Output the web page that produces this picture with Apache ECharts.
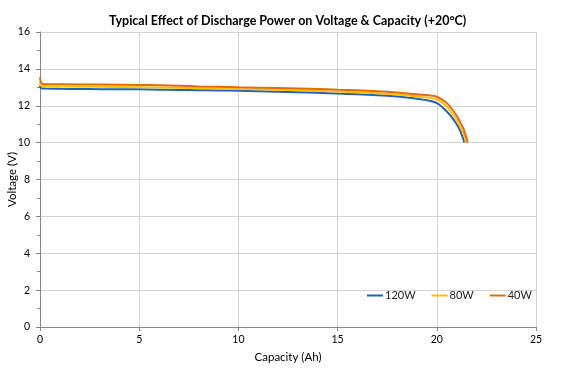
<!DOCTYPE html>
<html><head><meta charset="utf-8">
<script src="https://cdn.jsdelivr.net/npm/echarts@6/dist/echarts.min.js"></script>
<style>html,body{margin:0;padding:0;background:#fff}#c{width:564px;height:368px}</style>
</head><body><div id="c"></div>
<script>
const title = 'Typical Effect of Discharge Power on Voltage & Capacity (+20°C)';
const xTicks = [0, 5, 10, 15, 20, 25];
const yTicks = [0, 2, 4, 6, 8, 10, 12, 14, 16];
const seriesNames = ['120W', '80W', '40W'];

const cap120 = [0, 0.03, 0.1, 0.3, 1, 2, 3, 4, 5, 6, 7, 8, 9, 10, 11, 12, 13, 14, 15, 16, 17, 18, 18.5, 19, 19.5, 19.8, 20.1, 20.35, 20.6, 20.8, 21.0, 21.15, 21.25, 21.33, 21.39];
const volt120 = [13.1, 12.98, 12.94, 12.93, 12.92, 12.91, 12.9, 12.9, 12.89, 12.87, 12.86, 12.84, 12.83, 12.81, 12.79, 12.76, 12.73, 12.7, 12.66, 12.62, 12.57, 12.5, 12.45, 12.38, 12.3, 12.23, 12.08, 11.85, 11.58, 11.32, 11.0, 10.72, 10.45, 10.22, 10.0];

const cap80 = [0, 0.04, 0.12, 0.4, 1, 3, 5, 7, 8, 10, 12, 14, 15, 16, 17, 18, 19, 19.5, 19.9, 20.2, 20.45, 20.7, 20.9, 21.1, 21.25, 21.37, 21.43, 21.47];
const volt80 = [13.3, 13.1, 13.06, 13.05, 13.04, 13.03, 13.01, 12.97, 12.95, 12.91, 12.87, 12.81, 12.77, 12.73, 12.68, 12.61, 12.5, 12.45, 12.38, 12.22, 12.0, 11.7, 11.4, 11.05, 10.72, 10.42, 10.2, 10.0];

const cap40 = [0, 0.05, 0.15, 0.5, 1, 3, 5, 6, 7, 8, 10, 12, 14, 15, 16, 17, 18, 19, 19.5, 19.9, 20.25, 20.5, 20.67, 20.85, 21.03, 21.2, 21.34, 21.44, 21.5, 21.56];
const volt40 = [13.55, 13.25, 13.18, 13.16, 13.16, 13.15, 13.13, 13.11, 13.08, 13.05, 13.0, 12.96, 12.91, 12.87, 12.84, 12.79, 12.72, 12.62, 12.58, 12.53, 12.35, 12.15, 11.95, 11.7, 11.4, 11.07, 10.77, 10.45, 10.23, 10.0];

const colors = ['#2160C4', '#FFC000', '#E46C0A'];
const caps = [cap120, cap80, cap40];
const volts = [volt120, volt80, volt40];
const FONT = 'Lato';

const chart = echarts.init(document.getElementById('c'), null, {renderer: 'canvas'});
chart.setOption({
  animation: false,
  textStyle: {fontFamily: FONT},
  title: {text: title, left: 104, top: 9,
    textStyle: {fontFamily: FONT, fontSize: 12.5, fontWeight: 'bold', color: '#000'}},
  grid: {left: 40, right: 28, top: 32, bottom: 41, containLabel: false, outerBoundsMode: 'none'},
  legend: {
    data: seriesNames, left: 362, top: 285, itemWidth: 16, itemHeight: 2, itemGap: 16,
    icon: 'rect',
    textStyle: {fontFamily: FONT, fontSize: 11, color: '#222', padding: [0, 0, 0, -3]}
  },
  xAxis: {
    type: 'value', min: 0, max: 25, interval: 5,
    name: 'Capacity (Ah)', nameLocation: 'middle', nameGap: 24, nameMoveOverlap: false,
    nameTextStyle: {fontFamily: FONT, fontSize: 11.5, color: '#000'},
    axisLine: {lineStyle: {color: '#888', width: 1}},
    axisTick: {show: true, length: 4, lineStyle: {color: '#888'}},
    axisLabel: {fontFamily: FONT, fontSize: 10.5, color: '#000', margin: 7,
      formatter: v => xTicks.includes(v) ? String(v) : ''},
    splitLine: {show: true, lineStyle: {color: '#d4d4d4', width: 1}}
  },
  yAxis: {
    type: 'value', min: 0, max: 16, interval: 2,
    name: 'Voltage (V)', nameLocation: 'middle', nameGap: 22, nameRotate: 90, nameMoveOverlap: false,
    nameTextStyle: {fontFamily: FONT, fontSize: 11.5, color: '#000'},
    axisLine: {show: true, lineStyle: {color: '#888', width: 1}},
    axisTick: {show: true, length: 4, lineStyle: {color: '#888'}},
    minorTick: {show: true, splitNumber: 2, length: 3, lineStyle: {color: '#888'}},
    axisLabel: {fontFamily: FONT, fontSize: 10.5, color: '#000', margin: 10,
      formatter: v => yTicks.includes(v) ? String(v) : ''},
    splitLine: {show: true, lineStyle: {color: '#d4d4d4', width: 1}}
  },
  series: seriesNames.map((n, i) => ({
    name: n, type: 'line', symbol: 'none', smooth: 0.2,
    data: caps[i].map((c, j) => [c, volts[i][j]]),
    lineStyle: {color: colors[i], width: 2},
    itemStyle: {color: colors[i]}
  }))
});
</script></body></html>
